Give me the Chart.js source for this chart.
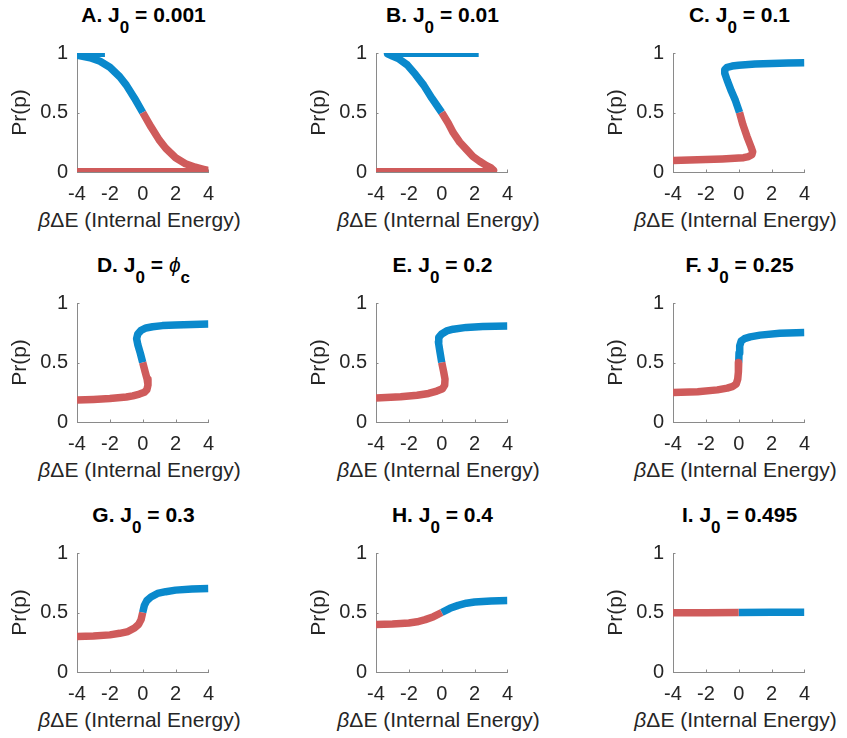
<!DOCTYPE html>
<html>
<head>
<meta charset="utf-8">
<script src="https://cdn.jsdelivr.net/npm/chart.js@4.4.1/dist/chart.umd.min.js"></script>
<style>
  html, body { margin: 0; padding: 0; background: #fff; }
  #page { position: relative; width: 847px; height: 738px; overflow: hidden; font-family: "Liberation Sans", Arial, sans-serif; }
  .panel { position: absolute; }
  .ptitle { position: absolute; text-align: center; font-weight: bold; font-size: 21px; line-height: 24px; color: #000; white-space: nowrap; }
  .ptitle sub { font-size: 17px; vertical-align: -11px; line-height: 0; }
  .ptitle i { font-weight: normal; }
  .xtitle { position: absolute; text-align: center; font-size: 21px; line-height: 24px; color: #262626; white-space: nowrap; }
</style>
</head>
<body>
<div id="page"></div>
<script>
// tick labels
const xTicks = [-4, -2, 0, 2, 4];
const yTicks = [0, 0.5, 1];

// panel titles (J0 values) and axis labels
const panelTitles = [
    'A. J<sub>0</sub> = 0.001',
    'B. J<sub>0</sub> = 0.01',
    'C. J<sub>0</sub> = 0.1',
    'D. J<sub>0</sub> = <i>ϕ</i><sub>c</sub>',
    'E. J<sub>0</sub> = 0.2',
    'F. J<sub>0</sub> = 0.25',
    'G. J<sub>0</sub> = 0.3',
    'H. J<sub>0</sub> = 0.4',
    'I. J<sub>0</sub> = 0.495'
];
const xLabel = '<i>β</i>ΔE (Internal Energy)';
const yLabel = 'Pr(p)';

// curves, [βΔE, Pr(p)], in order along each branch
const aBlue = [[-2.3, 0.998], [-4, 0.998], [-4, 0.982], [-3.2, 0.96], [-2.6, 0.93], [-2, 0.88], [-1.4, 0.8], [-1, 0.73], [-0.5, 0.62], [0, 0.5]];
const aRed = [[0, 0.5], [0.5, 0.38], [1, 0.27], [1.4, 0.2], [2, 0.12], [2.6, 0.07], [3.2, 0.04], [3.7, 0.022], [4, 0.012], [4, 0.004], [-4, 0.003]];

const bBlue = [[2.25, 0.998], [0, 0.998], [-2.5, 0.997], [-3.3, 0.993], [-3.0, 0.975], [-2.6, 0.95], [-2.1, 0.9], [-1.6, 0.82], [-1.1, 0.73], [-0.6, 0.62], [0, 0.5]];
const bRed = [[0, 0.5], [0.4, 0.41], [0.7, 0.33], [1.1, 0.25], [1.5, 0.19], [1.9, 0.13], [2.3, 0.09], [2.7, 0.055], [3.0, 0.035], [3.15, 0.015], [2.9, 0.004], [0, 0.003], [-4, 0.003]];

const cBlue = [[0.05, 0.5], [-0.2, 0.6], [-0.45, 0.68], [-0.7, 0.77], [-0.85, 0.83], [-0.85, 0.86], [-0.7, 0.88], [-0.4, 0.89], [0, 0.897], [1, 0.907], [2, 0.912], [3, 0.915], [4, 0.918]];
const cRed = [[0.05, 0.5], [0.25, 0.4], [0.5, 0.3], [0.75, 0.21], [0.85, 0.17], [0.8, 0.145], [0.6, 0.13], [0.3, 0.12], [0, 0.117], [-1, 0.11], [-2, 0.105], [-3, 0.1], [-4, 0.097]];

const dBlue = [[0, 0.5], [-0.15, 0.58], [-0.3, 0.65], [-0.37, 0.7], [-0.3, 0.74], [-0.1, 0.77], [0.2, 0.79], [0.6, 0.8], [1.2, 0.81], [2, 0.815], [3, 0.82], [4, 0.823]];
const dRed = [[0, 0.5], [0.15, 0.42], [0.27, 0.36], [0.32, 0.31], [0.25, 0.27], [0.1, 0.25], [-0.2, 0.235], [-0.6, 0.22], [-1, 0.21], [-2, 0.197], [-3, 0.19], [-4, 0.185]];

const eBlue = [[0, 0.5], [-0.12, 0.6], [-0.2, 0.67], [-0.18, 0.71], [0, 0.74], [0.3, 0.765], [0.7, 0.78], [1.5, 0.795], [2.5, 0.802], [4, 0.806]];
const eRed = [[0, 0.5], [0.12, 0.42], [0.2, 0.36], [0.18, 0.31], [0.05, 0.28], [-0.3, 0.26], [-0.8, 0.24], [-1.5, 0.225], [-2.5, 0.212], [-4, 0.202]];

const fBlue = [[0, 0.5], [0.02, 0.58], [0.06, 0.64], [0.15, 0.68], [0.35, 0.7], [0.7, 0.715], [1.3, 0.73], [2.5, 0.745], [4, 0.752]];
const fRed = [[0, 0.5], [-0.02, 0.42], [-0.06, 0.36], [-0.15, 0.32], [-0.35, 0.3], [-0.7, 0.285], [-1.3, 0.27], [-2.5, 0.255], [-4, 0.248]];

const gBlue = [[0, 0.5], [0.1, 0.56], [0.25, 0.6], [0.5, 0.63], [0.9, 0.66], [1.4, 0.675], [2, 0.688], [3, 0.697], [4, 0.702]];
const gRed = [[0, 0.5], [-0.1, 0.44], [-0.25, 0.4], [-0.5, 0.37], [-0.9, 0.34], [-1.4, 0.325], [-2, 0.312], [-3, 0.303], [-4, 0.298]];

const hBlue = [[0, 0.5], [0.5, 0.535], [1, 0.56], [1.5, 0.578], [2, 0.588], [3, 0.597], [4, 0.6]];
const hRed = [[0, 0.5], [-0.5, 0.465], [-1, 0.44], [-1.5, 0.422], [-2, 0.412], [-3, 0.403], [-4, 0.4]];

const iBlue = [[0, 0.5], [2, 0.502], [4, 0.503]];
const iRed = [[-4, 0.497], [-2, 0.498], [0, 0.5]];

const blueSeries = [aBlue, bBlue, cBlue, dBlue, eBlue, fBlue, gBlue, hBlue, iBlue];
const redSeries = [aRed, bRed, cRed, dRed, eRed, fRed, gRed, hRed, iRed];

// layout (plot area positions in the page)
const colLeft = [77, 376, 673];
const rowTop = [41.5, 291.5, 542];
const plotW = 133, plotH = 130;
const padLeft = 77, padTop = 10, padRight = 14, padBottom = 40;

const BLUE = '#0a89cc';
const RED = '#cf5b5b';
const AXIS = '#8a8a8a';
const TEXT = '#262626';
const FONT = 'Arial, "Liberation Sans", sans-serif';

// small inward tick marks like the original
const innerTicks = {
    id: 'innerTicks',
    beforeDatasetsDraw(chart) {
        const ctx = chart.ctx;
        const xs = chart.scales.x, ys = chart.scales.y;
        ctx.save();
        ctx.strokeStyle = AXIS;
        ctx.lineWidth = 1;
        ctx.beginPath();
        xTicks.forEach(v => {
            const px = Math.round(xs.getPixelForValue(v)) + 0.5;
            ctx.moveTo(px, ys.bottom);
            ctx.lineTo(px, ys.bottom - 2.5);
        });
        yTicks.forEach(v => {
            const py = Math.round(ys.getPixelForValue(v)) + 0.5;
            ctx.moveTo(xs.left, py);
            ctx.lineTo(xs.left + 2.5, py);
        });
        ctx.stroke();
        ctx.restore();
    }
};

function toPoints(arr) {
    return arr.map(p => ({ x: p[0], y: p[1] }));
}

function lineSet(arr, color) {
    return {
        data: toPoints(arr),
        showLine: true,
        borderColor: color,
        backgroundColor: color,
        borderWidth: 7.5,
        borderJoinStyle: 'round',
        pointRadius: 0,
        tension: 0
    };
}

const page = document.getElementById('page');

for (let i = 0; i < 9; i++) {
    const col = i % 3, row = Math.floor(i / 3);
    const left = colLeft[col], top = rowTop[row];

    const title = document.createElement('div');
    title.className = 'ptitle';
    title.style.left = (left - 40) + 'px';
    title.style.width = (plotW + 80) + 'px';
    title.style.top = (top - 39) + 'px';
    title.innerHTML = panelTitles[i];
    page.appendChild(title);

    const xt = document.createElement('div');
    xt.className = 'xtitle';
    xt.style.left = (left - 64) + 'px';
    xt.style.width = (plotW + 120) + 'px';
    xt.style.top = (top + 166) + 'px';
    xt.innerHTML = xLabel;
    page.appendChild(xt);

    const wrap = document.createElement('div');
    wrap.className = 'panel';
    wrap.style.left = (left - padLeft) + 'px';
    wrap.style.top = (top - padTop) + 'px';
    const canvas = document.createElement('canvas');
    canvas.width = padLeft + plotW + padRight;
    canvas.height = padTop + plotH + padBottom;
    wrap.appendChild(canvas);
    page.appendChild(wrap);

    new Chart(canvas, {
        type: 'scatter',
        data: {
            datasets: [lineSet(redSeries[i], RED), lineSet(blueSeries[i], BLUE)]
        },
        options: {
            responsive: false,
            animation: false,
            events: [],
            layout: { padding: { left: 0, top: padTop, right: padRight, bottom: 0 } },
            plugins: { legend: { display: false }, tooltip: { enabled: false } },
            scales: {
                x: {
                    type: 'linear',
                    min: -4,
                    max: 4,
                    afterBuildTicks: s => { s.ticks = xTicks.map(v => ({ value: v })); },
                    afterFit: s => { s.height = padBottom; },
                    grid: { display: false, drawTicks: false },
                    border: { display: true, color: AXIS, width: 1 },
                    ticks: { color: TEXT, font: { family: FONT, size: 20 }, padding: 10, callback: v => String(v) }
                },
                y: {
                    type: 'linear',
                    min: 0,
                    max: 1,
                    afterBuildTicks: s => { s.ticks = yTicks.map(v => ({ value: v })); },
                    afterFit: s => { s.width = padLeft; },
                    grid: { display: false, drawTicks: false },
                    border: { display: true, color: AXIS, width: 1 },
                    ticks: { color: TEXT, font: { family: FONT, size: 20 }, padding: 9, callback: v => String(v) },
                    title: {
                        display: true,
                        text: yLabel,
                        color: TEXT,
                        font: { family: FONT, size: 21 },
                        padding: { top: 8, bottom: 0 }
                    }
                }
            }
        },
        plugins: [innerTicks]
    });
}
</script>
</body>
</html>
